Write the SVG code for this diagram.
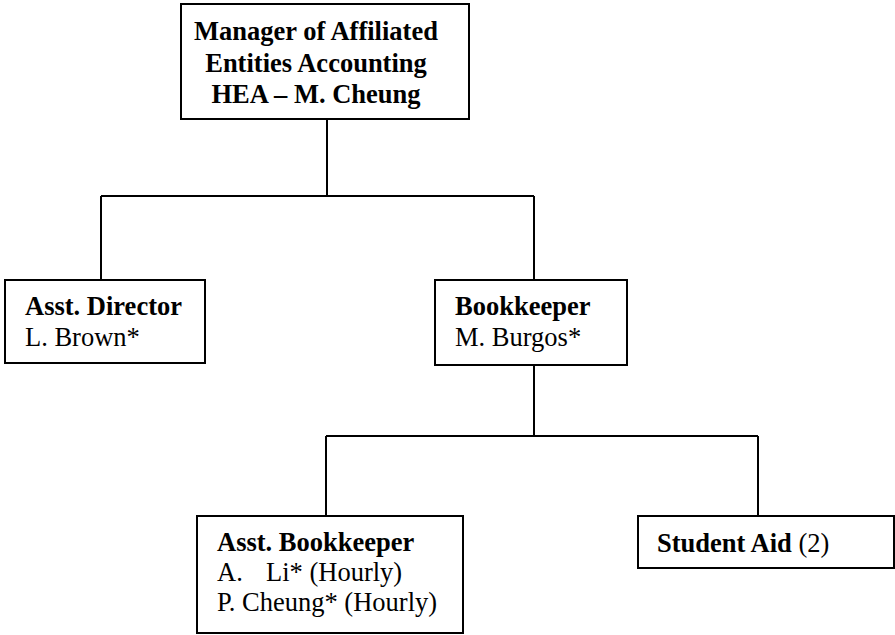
<svg xmlns="http://www.w3.org/2000/svg" width="895" height="635" viewBox="0 0 895 635">
<style>
.box{fill:#fff;stroke:#000;stroke-width:2}
.ln{fill:none;stroke:#000;stroke-width:2}
text{font-family:"Liberation Serif","Times New Roman",serif;font-size:26.5px;fill:#000}
.b{font-weight:bold}
</style>
<rect width="895" height="635" fill="#fff"/>
<g id="connectors">
<path class="ln" d="M327 119V196M101 196H534M101 196V280M534 196V280"/>
<path class="ln" d="M534 365V436M326 436H758M326 436V516M758 436V516"/>
</g>
<g id="manager">
<rect class="box" x="181" y="4" width="288" height="115"/>
<text class="b" text-anchor="middle" x="316" y="40">Manager of Affiliated</text>
<text class="b" text-anchor="middle" x="316" y="71.5">Entities Accounting</text>
<text class="b" text-anchor="middle" x="316" y="103">HEA – M. Cheung</text>
</g>
<g id="asst-director">
<rect class="box" x="5" y="280" width="200" height="83"/>
<text class="b" x="25" y="315">Asst. Director</text>
<text x="25" y="346">L. Brown*</text>
</g>
<g id="bookkeeper">
<rect class="box" x="435" y="280" width="192" height="85"/>
<text class="b" x="455" y="315">Bookkeeper</text>
<text x="455" y="346">M. Burgos*</text>
</g>
<g id="asst-bookkeeper">
<rect class="box" x="197" y="516" width="266" height="117"/>
<text class="b" x="217" y="551">Asst. Bookkeeper</text>
<text x="217" y="581">A.</text>
<text x="266" y="581">Li* (Hourly)</text>
<text x="217" y="611">P. Cheung* (Hourly)</text>
</g>
<g id="student-aid">
<rect class="box" x="638" y="516" width="256" height="52"/>
<text x="657" y="552"><tspan class="b">Student Aid</tspan> (2)</text>
</g>
</svg>
